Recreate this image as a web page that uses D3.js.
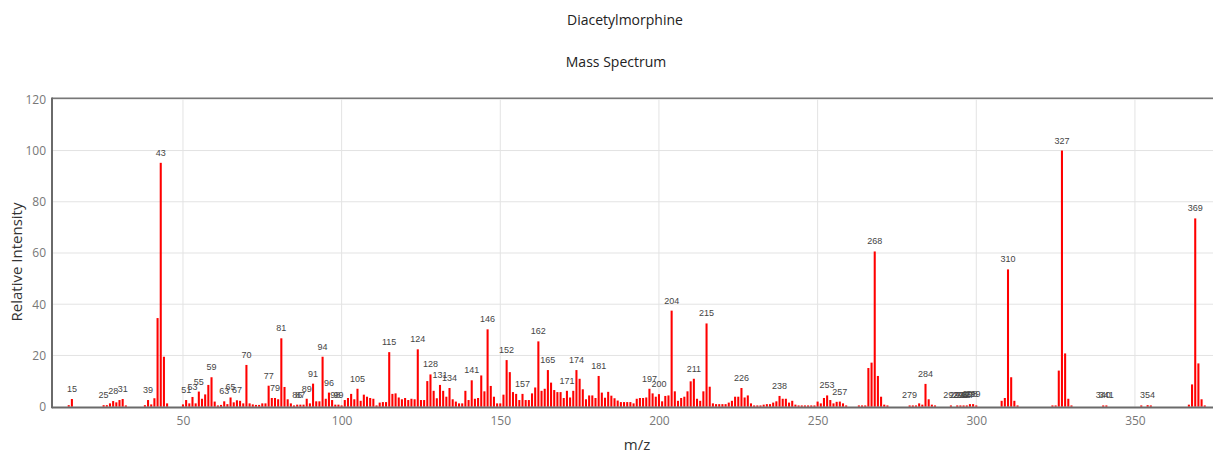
<!DOCTYPE html>
<html>
<head>
<meta charset="utf-8">
<script src="https://cdn.jsdelivr.net/npm/d3@7"></script>
<style>
  html, body { margin: 0; padding: 0; background: #fff; }
  svg { display: block; }
</style>
</head>
<body>
<svg id="chart" width="1213" height="453"></svg>
<script>
// ---- data ----
const mz = [14,15,25,26,27,28,29,30,31,32,38,39,40,41,42,43,44,45,
  50,51,52,53,54,55,56,57,58,59,60,61,62,63,64,65,66,67,68,69,70,71,72,73,74,75,76,77,78,79,80,
  81,82,83,84,85,86,87,88,89,90,91,92,93,94,95,96,97,98,99,100,101,102,103,104,105,106,107,108,109,110,
  111,112,113,114,115,116,117,118,119,120,121,122,123,124,125,126,127,128,129,130,131,132,133,134,135,136,137,138,139,140,
  141,142,143,144,145,146,147,148,149,150,151,152,153,154,155,156,157,158,159,160,161,162,163,164,165,166,167,168,169,170,
  171,172,173,174,175,176,177,178,179,180,181,182,183,184,185,186,187,188,189,190,191,192,193,194,195,196,197,198,199,200,
  201,202,203,204,205,206,207,208,209,210,211,212,213,214,215,216,217,218,219,220,221,222,223,224,225,226,227,228,229,230,
  231,232,233,234,235,236,237,238,239,240,241,242,243,244,245,246,247,248,249,250,251,252,253,254,255,256,257,258,259,
  263,264,265,266,267,268,269,270,271,272,
  279,280,281,282,283,284,285,286,287,
  292,294,295,296,297,298,299,300,
  308,309,310,311,312,313,
  324,325,326,327,328,329,330,
  340,341,352,354,355,
  367,368,369,370,371,372];
const intensity = [0.6,3.0,0.6,0.6,1.3,2.2,1.7,2.6,3.0,0.5,0.6,2.6,0.9,3.3,34.6,95.2,19.5,1.3,
  0.9,2.6,1.3,3.8,1.3,5.9,3.1,4.8,8.5,11.5,2.0,0.5,0.7,2.1,1.0,3.6,1.7,2.5,2.3,1.3,16.3,1.3,0.9,0.7,0.7,1.3,1.3,8.2,3.4,3.4,2.9,
  26.7,7.7,2.9,1.3,0.5,0.8,0.8,0.8,3.1,1.3,9.0,2.1,2.1,19.5,3.1,5.5,2.6,0.8,0.8,0.5,2.6,3.4,5.0,2.9,7.0,2.3,4.7,3.9,3.4,3.1,
  0.5,1.6,1.8,1.8,21.3,5.0,5.2,3.6,2.9,3.4,2.6,3.1,2.9,22.4,2.6,2.6,10.0,12.6,6.2,3.3,8.5,6.2,3.9,7.3,2.9,2.0,1.3,1.3,6.2,2.6,
  10.3,3.1,3.4,12.2,6.0,30.2,8.1,3.9,1.3,1.3,4.7,18.2,13.5,5.7,5.0,2.6,5.0,2.6,2.6,5.2,7.5,25.5,6.2,7.0,14.3,9.4,6.5,5.7,5.7,3.4,
  6.2,3.6,6.2,14.3,10.9,6.8,2.9,4.4,4.4,3.4,12.0,5.5,3.5,5.8,4.3,3.3,2.4,1.8,1.8,1.8,1.8,1.3,3.1,3.4,3.4,3.6,7.0,5.2,3.9,4.9,
  2.1,4.2,4.4,37.5,6.0,2.3,3.4,3.9,6.0,9.9,10.9,3.1,2.3,6.0,32.5,7.8,1.3,1.0,1.0,1.0,1.0,1.6,2.3,3.9,3.9,7.3,3.6,4.4,1.3,0.5,
  0.5,0.5,0.8,1.0,1.0,1.6,2.1,4.2,3.1,3.1,1.6,2.3,0.8,0.5,0.5,0.5,0.5,0.5,0.5,2.0,1.3,3.4,4.4,2.6,1.3,1.9,2.0,1.3,0.5,
  0.5,0.5,0.5,15.1,17.2,60.6,12.0,3.9,0.8,0.5,
  0.5,0.5,0.5,1.3,0.8,8.9,2.9,0.8,0.5,
  0.5,0.5,0.5,0.5,0.5,1.0,1.0,0.5,
  2.3,3.4,53.6,11.5,2.3,0.5,
  0.5,0.5,14.1,100,20.8,3.1,0.5,
  0.5,0.5,0.5,0.6,0.5,
  0.8,8.7,73.5,16.9,2.9,0.5];
const labeledPeaks = [15,25,28,31,39,43,51,53,55,59,63,65,67,70,77,79,81,86,87,89,91,94,96,98,99,105,
  115,124,128,131,134,141,146,152,157,162,165,171,174,181,197,200,204,211,215,226,238,253,257,268,279,284,
  292,294,295,296,297,298,299,310,327,340,341,354,369];
const xTicks = [50,100,150,200,250,300,350];
const yTicks = [0,20,40,60,80,100,120];
const titleText = "Diacetylmorphine";
const subtitleText = "Mass Spectrum";
const xLabel = "m/z";
const yLabel = "Relative Intensity";

(function () {
// ---- layout ----
const svg = d3.select("#chart");
const pLeft = 52, pRight = 1213, pTop = 99.3, pBottom = 406.7;
const x = d3.scaleLinear().domain([8.73, 374.6]).range([pLeft, pRight]);
const y = d3.scaleLinear().domain([0, 120]).range([pBottom, pTop]);
const data = mz.map((m, i) => ({ m, v: intensity[i] }));

// gridlines
svg.append("g").selectAll("line").data(yTicks.filter(d => d > 0)).join("line")
  .attr("x1", pLeft).attr("x2", pRight).attr("y1", d => y(d)).attr("y2", d => y(d))
  .attr("stroke", "#e3e3e3").attr("stroke-width", 1);
svg.append("g").selectAll("line").data(xTicks).join("line")
  .attr("x1", d => x(d)).attr("x2", d => x(d)).attr("y1", pTop).attr("y2", pBottom)
  .attr("stroke", "#e3e3e3").attr("stroke-width", 1);

// bars
const bw = x(0.65) - x(0);
svg.append("g").selectAll("rect").data(data).join("rect")
  .attr("x", d => x(d.m) - bw / 2).attr("width", bw)
  .attr("y", d => y(d.v)).attr("height", d => y(0) - y(d.v))
  .attr("fill", "#ff0000");

// peak labels
const lab = data.filter(d => labeledPeaks.includes(d.m));
svg.append("g").selectAll("text").data(lab).join("text")
  .attr("x", d => x(d.m)).attr("y", d => y(d.v) - 7)
  .attr("text-anchor", "middle")
  .attr("font-family", "Liberation Sans, Arial, sans-serif").attr("font-size", 9)
  .attr("fill", "#444").text(d => d.m);

// axes
const xAxis = svg.append("g").attr("transform", `translate(0,${pBottom})`)
  .call(d3.axisBottom(x).tickValues(xTicks).tickSize(0).tickPadding(10));
const yAxis = svg.append("g").attr("transform", `translate(${pLeft},0)`)
  .call(d3.axisLeft(y).tickValues(yTicks).tickSize(0).tickPadding(6));
[xAxis, yAxis].forEach(a => {
  a.select(".domain").remove();
  a.selectAll("text").attr("font-family", "Open Sans, sans-serif").attr("font-size", 12).attr("fill", "#777");
});
// frame lines
svg.append("line").attr("x1", pLeft).attr("x2", pRight).attr("y1", pTop - 1).attr("y2", pTop - 1)
  .attr("stroke", "#777").attr("stroke-width", 1.5);
svg.append("line").attr("x1", pLeft).attr("x2", pLeft).attr("y1", pTop - 1.7).attr("y2", pBottom + 1.5)
  .attr("stroke", "#6a6a6a").attr("stroke-width", 2);
svg.append("line").attr("x1", pLeft).attr("x2", pRight).attr("y1", pBottom + 0.8).attr("y2", pBottom + 0.8)
  .attr("stroke", "#6a6a6a").attr("stroke-width", 2);

// titles
svg.append("text").attr("x", 625).attr("y", 25).attr("text-anchor", "middle")
  .attr("font-family", "Open Sans, sans-serif").attr("font-size", 14).attr("fill", "#222").text(titleText);
svg.append("text").attr("x", 616).attr("y", 67).attr("text-anchor", "middle")
  .attr("font-family", "Open Sans, sans-serif").attr("font-size", 14).attr("fill", "#222").text(subtitleText);
svg.append("text").attr("x", 637).attr("y", 450).attr("text-anchor", "middle")
  .attr("font-family", "Open Sans, sans-serif").attr("font-size", 15).attr("fill", "#333").text(xLabel);
svg.append("text").attr("transform", "translate(22,262) rotate(-90)").attr("text-anchor", "middle")
  .attr("font-family", "Open Sans, sans-serif").attr("font-size", 15).attr("fill", "#333").text(yLabel);
})();
</script>
</body>
</html>
